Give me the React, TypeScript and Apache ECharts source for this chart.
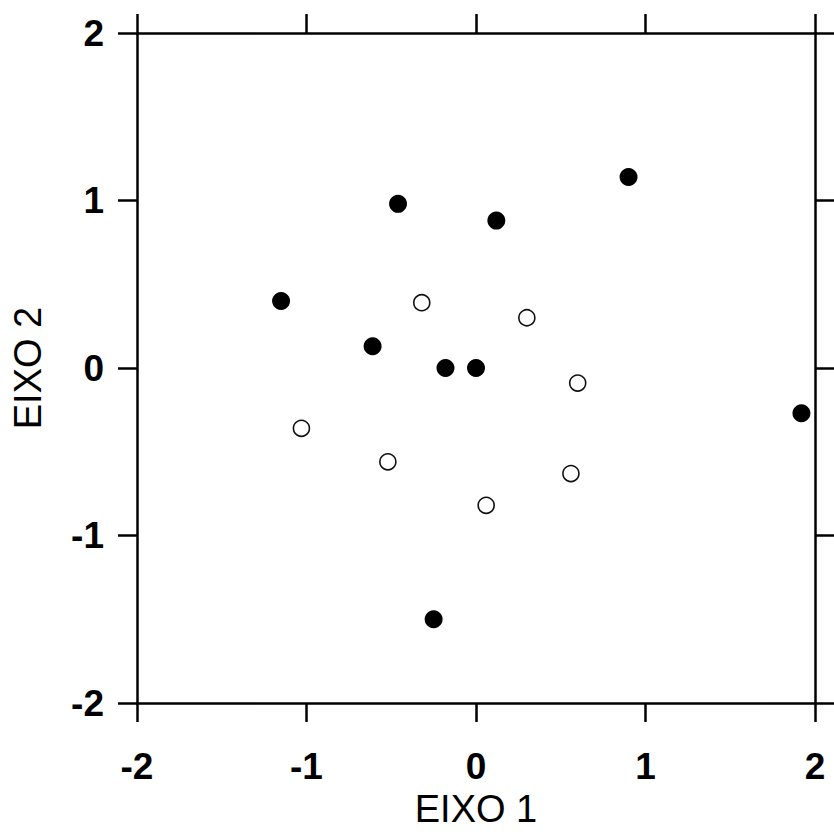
import React, { useEffect, useRef } from "react";
import * as echarts from "echarts";

// Ordination scores (EIXO 1, EIXO 2)
const filledX = [0.9, -0.46, 0.12, -1.15, -0.61, -0.18, 0.0, 1.92, -0.25];
const filledY = [1.14, 0.98, 0.88, 0.4, 0.13, 0.0, 0.0, -0.27, -1.5];

const openX = [-0.32, 0.3, 0.6, -1.03, -0.52, 0.56, 0.06];
const openY = [0.39, 0.3, -0.09, -0.36, -0.56, -0.63, -0.82];

const tickValues = [-2, -1, 0, 1, 2];
const xTitle = "EIXO 1";
const yTitle = "EIXO 2";

const FONT = "'Liberation Sans', Arial, Helvetica, sans-serif";

const pairs = (xs: number[], ys: number[]) => xs.map((x, i) => [x, ys[i]]);

export default function App() {
  const ref = useRef<HTMLDivElement>(null);

  useEffect(() => {
    if (!ref.current) return;
    const chart = echarts.init(ref.current, undefined, { renderer: "svg" });

    const lineStyle = { color: "#000", width: 2.5 };
    const tick = { show: true, inside: false, length: 19, lineStyle: { color: "#000", width: 2.5 } };
    const tickLabel = {
      show: true,
      color: "#000",
      fontFamily: FONT,
      fontSize: 37,
      fontWeight: "bold" as const,
      formatter: (v: number) => (tickValues.includes(v) ? String(v) : ""),
    };
    const range = { min: -2, max: 2, interval: 1 };

    chart.setOption({
      animation: false,
      backgroundColor: "#fff",
      grid: { left: 137, right: 19, top: 33, bottom: 133, containLabel: false },
      xAxis: [
        {
          type: "value",
          position: "bottom",
          ...range,
          axisLine: { show: true, onZero: false, lineStyle },
          axisTick: tick,
          axisLabel: { ...tickLabel, margin: 45 },
          splitLine: { show: false },
          name: xTitle,
          nameLocation: "middle",
          nameGap: 86,
          nameTextStyle: { color: "#000", fontFamily: FONT, fontSize: 38 },
        },
        {
          type: "value",
          position: "top",
          ...range,
          axisLine: { show: true, onZero: false, lineStyle },
          axisTick: tick,
          axisLabel: { show: false },
          splitLine: { show: false },
        },
      ],
      yAxis: [
        {
          type: "value",
          position: "left",
          ...range,
          axisLine: { show: true, onZero: false, lineStyle },
          axisTick: tick,
          axisLabel: { ...tickLabel, margin: 33 },
          splitLine: { show: false },
          name: yTitle,
          nameLocation: "middle",
          nameGap: 90,
          nameRotate: 90,
          nameTextStyle: { color: "#000", fontFamily: FONT, fontSize: 38 },
        },
        {
          type: "value",
          position: "right",
          ...range,
          axisLine: { show: true, onZero: false, lineStyle },
          axisTick: tick,
          axisLabel: { show: false },
          splitLine: { show: false },
        },
      ],
      series: [
        {
          type: "scatter",
          name: "open",
          data: pairs(openX, openY),
          symbol: "circle",
          symbolSize: 16,
          itemStyle: { color: "#fff", borderColor: "#111", borderWidth: 1.6, opacity: 1 },
        },
        {
          type: "scatter",
          name: "filled",
          data: pairs(filledX, filledY),
          symbol: "circle",
          symbolSize: 18,
          itemStyle: { color: "#000", opacity: 1 },
        },
      ],
    });

    return () => chart.dispose();
  }, []);

  return (
    <div
      ref={ref}
      style={{ position: "absolute", left: 0, top: 0, width: 834, height: 836, background: "#fff" }}
    />
  );
}
